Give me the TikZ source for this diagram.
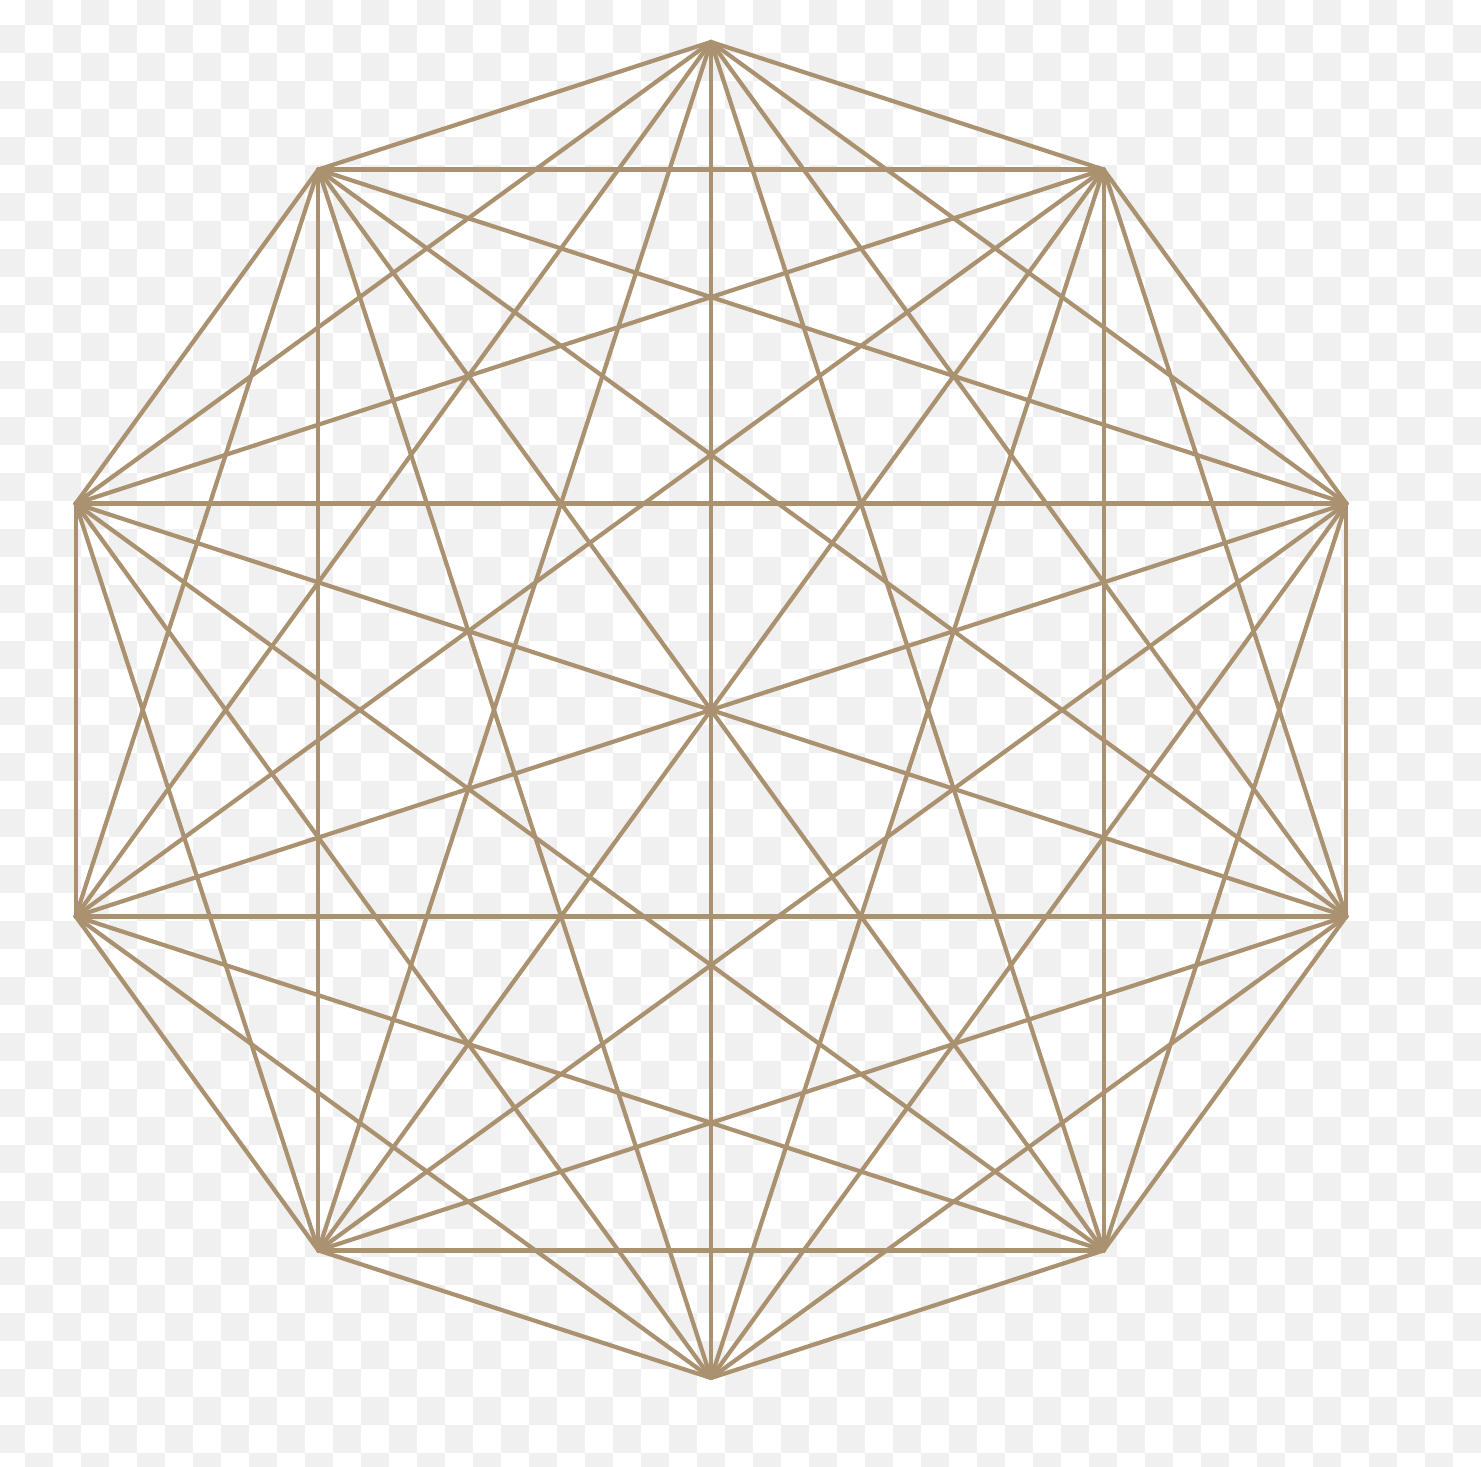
\documentclass[tikz,border=0pt]{standalone}
\usepackage{xcolor}
\definecolor{kdtan}{RGB}{170,145,112}
\tikzset{
  kdcheck/.style={fill=black!6, draw=none},
  kdedge/.style={line width=1.2pt, draw=kdtan, line cap=round, line join=round},
}
\begin{document}
\begin{tikzpicture}
\useasboundingbox (0,0) rectangle (14.81,14.67);
\fill[white] (0,0) rectangle (14.81,14.67);
\begin{scope}
\clip (0,0) rectangle (14.81,14.67);
\foreach \i in {0,...,53}
  \foreach \j in {0,2,...,52}{
    \pgfmathsetmacro{\kdy}{\j+mod(\i+1,2)}
    \fill[kdcheck] (-0.03+0.28*\i,14.70-0.28*\kdy) rectangle ++(0.28,-0.28);
  }
\end{scope}
\coordinate (kc) at (7.11,7.57);
\foreach \k in {0,...,9}
  \path (kc) ++(90+36*\k:6.68) coordinate (v\k);
\foreach \i in {0,...,8}{
  \pgfmathtruncatemacro{\kdn}{\i+1}
  \foreach \j in {\kdn,...,9}
    \draw[kdedge] (v\i) -- (v\j);
}
\end{tikzpicture}
\end{document}
